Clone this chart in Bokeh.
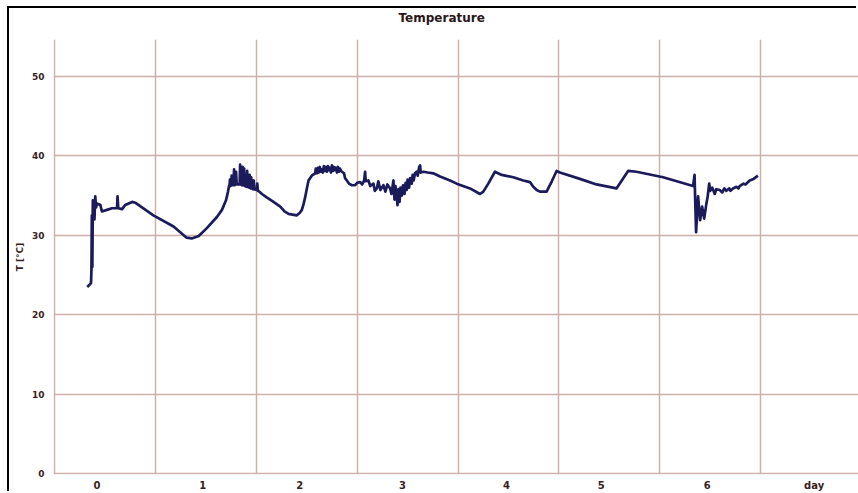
from bokeh.plotting import figure
from bokeh.models import FixedTicker, ColumnDataSource, Title
from bokeh.embed import file_html
from bokeh.resources import INLINE

# ---- data ----
days = [
    0.324, 0.350, 0.362, 0.366, 0.370, 0.375, 0.380, 0.390, 0.396, 0.404, 0.412, 0.420,
    0.455, 0.470, 0.520, 0.570, 0.620, 0.625, 0.632, 0.670, 0.700, 0.770, 0.800, 0.980,
    1.180, 1.310, 1.360, 1.430, 1.510, 1.610, 1.660, 1.700, 1.720, 1.730,
    1.735, 1.739, 1.745, 1.751, 1.756, 1.760, 1.765, 1.774, 1.780, 1.786, 1.795, 1.800,
    1.806, 1.835, 1.840, 1.846, 1.860, 1.865, 1.871, 1.876, 1.880, 1.886, 1.905, 1.910,
    1.916, 1.930, 1.935, 1.941, 1.946, 1.950, 1.956, 1.970, 1.975, 1.981, 2.005, 2.010,
    2.016, 2.030, 2.056, 2.100, 2.171, 2.238, 2.280, 2.320, 2.360, 2.400, 2.430, 2.452,
    2.470, 2.485, 2.500, 2.518, 2.550, 2.584,
    2.590, 2.600, 2.610, 2.620, 2.630, 2.640, 2.650, 2.660, 2.670, 2.680, 2.690, 2.700,
    2.710, 2.720, 2.730, 2.740, 2.750, 2.760, 2.770, 2.780, 2.790, 2.800, 2.810, 2.820,
    2.830, 2.840, 2.850,
    2.870, 2.880, 2.898, 2.920, 2.948, 2.980, 3.000, 3.030, 3.050, 3.070, 3.079, 3.085,
    3.112, 3.130, 3.162, 3.175, 3.195, 3.210, 3.230, 3.260, 3.280, 3.300, 3.327, 3.340,
    3.360, 3.370, 3.380, 3.393, 3.400, 3.410, 3.420, 3.430, 3.443, 3.455, 3.470, 3.480,
    3.492, 3.500, 3.515, 3.525, 3.541, 3.550, 3.560, 3.574, 3.590, 3.600, 3.615, 3.624,
    3.630, 3.657, 3.700, 3.755, 3.822, 3.921, 3.987, 4.119, 4.218, 4.251, 4.300, 4.366,
    4.433, 4.548, 4.647, 4.713, 4.746, 4.780, 4.812, 4.878, 4.930, 4.977, 5.010, 5.208,
    5.373, 5.571, 5.686, 5.769, 6.033, 6.330, 6.345, 6.350, 6.360, 6.380, 6.400, 6.420,
    6.440, 6.460, 6.475, 6.490, 6.500, 6.520, 6.545, 6.560, 6.594, 6.620, 6.640, 6.660,
    6.690, 6.700, 6.726, 6.760, 6.780, 6.792, 6.830, 6.850, 6.891, 6.930, 6.973,
]
temp_c = [
    23.5, 23.8, 24.0, 25.6, 32.5, 26.0, 34.4, 33.5, 32.0, 34.9, 33.5, 34.0,
    33.8, 33.0, 33.2, 33.4, 33.4, 34.9, 33.4, 33.3, 33.8, 34.2, 34.1, 32.5,
    31.1, 29.7, 29.6, 29.9, 30.9, 32.3, 33.2, 34.4, 35.5, 36.2,
    36.2, 37.0, 36.2, 36.3, 37.5, 36.3, 36.3, 36.3, 38.3, 36.3, 36.4, 38.0,
    36.4, 36.4, 38.9, 36.4, 36.3, 38.6, 36.3, 36.3, 38.4, 36.2, 36.1, 38.1,
    36.1, 36.0, 37.6, 36.0, 35.9, 37.3, 35.9, 35.8, 36.9, 35.8, 35.7, 36.5,
    35.6, 35.5, 35.2, 34.8, 34.2, 33.6, 33.0, 32.7, 32.6, 32.5, 32.8, 33.2,
    34.0, 34.8, 35.8, 36.9, 37.5, 37.8,
    38.4, 37.8, 38.5, 37.9, 38.6, 38.0, 38.3, 37.9, 38.7, 38.1, 38.6, 38.0,
    38.7, 38.2, 38.5, 37.9, 38.8, 38.1, 38.6, 38.2, 38.5, 37.9, 38.6, 38.0,
    38.4, 38.1, 38.0,
    37.8, 37.2, 36.9, 36.5, 36.3, 36.3, 36.6, 36.7, 36.4, 36.9, 38.0, 36.8,
    36.9, 36.2, 36.5, 35.6, 35.9, 36.8, 35.7, 36.3, 35.5, 36.4, 35.9, 35.2,
    36.9, 34.5, 36.2, 34.8, 33.8, 35.8, 34.2, 36.0, 35.0, 36.3, 35.2, 36.6,
    35.7, 37.0, 36.0, 37.2, 36.5, 37.6, 36.9, 37.8, 38.0, 37.5, 38.6, 38.8,
    37.9, 38.0, 37.9, 37.8, 37.4, 36.9, 36.5, 35.9, 35.2, 35.5, 36.5, 38.0,
    37.6, 37.3, 36.9, 36.7, 36.1, 35.7, 35.5, 35.5, 36.8, 38.1, 37.9, 37.1,
    36.4, 35.9, 38.1, 38.0, 37.3, 36.2, 37.6, 35.0, 30.4, 34.9, 31.9, 33.6,
    32.1, 33.8, 34.9, 36.5, 35.6, 36.0, 35.2, 35.8, 35.7, 35.4, 35.9, 35.6,
    35.9, 35.6, 35.9, 36.1, 35.9, 36.2, 36.5, 36.4, 36.9, 37.1, 37.5,
]

day_boundaries = [0, 1, 2, 3, 4, 5, 6, 7]
temp_ticks = [0, 10, 20, 30, 40, 50]
x_label_pos = [0.42, 1.47, 2.43, 3.45, 4.48, 5.42, 6.47, 7.53]
x_label_text = ["0", "1", "2", "3", "4", "5", "6", "day"]

TEXT = "#3a1e1e"
GRID = "#cdb0aa"
FONT = "DejaVu Sans"

p = figure(width=849, height=485, output_backend="svg", toolbar_location=None,
           x_range=(-0.01, 7.97), y_range=(-0.12, 54.65),
           min_border_left=44, min_border_right=0, min_border_top=28,
           min_border_bottom=18, title="Temperature")
p.margin = (8, 0, 0, 9)
p.styles = {"box-shadow": "-2px -2px 0 0 black"}
p.background_fill_color = "white"
p.border_fill_color = "white"
p.outline_line_color = None

# spacer between frame and title
p.add_layout(Title(text=" ", text_font_size="1px", standoff=12), "above")

p.title.text_font = FONT
p.title.text_font_size = "12px"
p.title.text_font_style = "bold"
p.title.text_color = "#2a1616"
p.title.align = "left"
p.title.offset = 345
p.title.vertical_align = "bottom"
p.title.standoff = 0

# grids
p.xgrid.ticker = FixedTicker(ticks=day_boundaries)
p.ygrid.ticker = FixedTicker(ticks=temp_ticks)
for g in (p.xgrid, p.ygrid):
    g.grid_line_color = GRID
    g.grid_line_width = 1.5

# axes
p.xaxis.ticker = FixedTicker(ticks=x_label_pos)
p.xaxis.major_label_overrides = {pos: t for pos, t in zip(x_label_pos, x_label_text)}
p.yaxis.ticker = FixedTicker(ticks=temp_ticks)
p.yaxis.axis_label = "T [°C]"
for ax in (p.xaxis, p.yaxis):
    ax.axis_line_color = None
    ax.major_tick_line_color = None
    ax.minor_tick_line_color = None
    ax.major_tick_out = 0
    ax.major_tick_in = 0
    ax.minor_tick_out = 0
    ax.minor_tick_in = 0
    ax.major_label_text_font = FONT
    ax.major_label_text_font_style = "bold"
    ax.major_label_text_color = TEXT
p.xaxis.major_label_text_font_size = "10px"
p.yaxis.major_label_text_font_size = "9px"
p.xaxis.major_label_standoff = 5
p.yaxis.major_label_standoff = 9
p.yaxis.axis_label_text_font = FONT
p.yaxis.axis_label_text_font_size = "9px"
p.yaxis.axis_label_text_font_style = "bold"
p.yaxis.axis_label_text_color = TEXT
p.yaxis.axis_label_standoff = 4

src = ColumnDataSource(data=dict(day=days, t=temp_c))
p.line("day", "t", source=src, line_color="#1b1b5c", line_width=2.7, line_join="round")

open("out.html", "w").write(file_html(p, INLINE))
